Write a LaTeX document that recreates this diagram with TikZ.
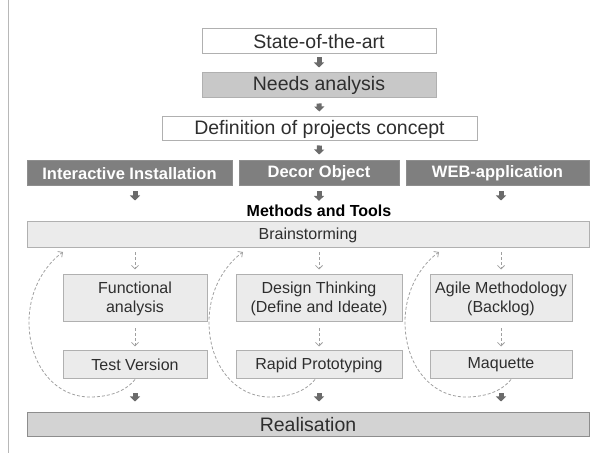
\documentclass[tikz,border=0pt]{standalone}
\usepackage{fontspec}
\setmainfont{Liberation Sans}
\usetikzlibrary{arrows.meta}
\definecolor{boxline}{HTML}{B0B0B0}
\definecolor{textgray}{HTML}{2E2E2E}
\definecolor{needsfill}{HTML}{C8C8C8}
\definecolor{darkfill}{HTML}{7F7F7F}
\definecolor{darkline}{HTML}{8E8E8E}
\definecolor{lightfill}{HTML}{EBEBEB}
\definecolor{realfill}{HTML}{D3D3D3}
\definecolor{arrowgray}{HTML}{6B6B6B}
\definecolor{dashgray}{HTML}{A0A0A0}
\definecolor{sidegray}{HTML}{B8B8B8}

\begin{document}
\begin{tikzpicture}[x = 1pt, y = -1pt]
\tikzstyle{BoxStyle}=[
shape = rectangle,
draw = boxline,
line width = 1pt,
inner sep = 0pt,
text = textgray,
align = center]
\tikzstyle{TopBox}=[BoxStyle, fill = white, minimum height = 25pt, font = \fontsize{19.5}{22}\selectfont]
\tikzstyle{GroupBox}=[BoxStyle, draw = darkline, fill = darkfill, text = white, minimum height = 25pt, font = \fontsize{16.5}{19}\selectfont\bfseries]
\tikzstyle{MethodBox}=[BoxStyle, fill = lightfill, font = \fontsize{16}{19}\selectfont]
\tikzstyle{bigarrow}=[draw = arrowgray, line width = 5pt, -{Triangle[width = 10pt, length = 5pt]}]
\tikzstyle{dasharrow}=[draw = dashgray, line width = 0.8pt, dash pattern = on 3pt off 2pt, -{Straight Barb[width = 7pt, length = 3.5pt]}]
\useasboundingbox (0,0) rectangle (603,454);
\draw[draw = sidegray, line width = 1pt] (8,0) -- (8,453);
\node[TopBox, minimum width = 234pt] (state) at (319,41.5) {State-of-the-art};
\node[TopBox, fill = needsfill, minimum width = 234pt] (needs) at (319,85.5) {Needs analysis};
\node[TopBox, minimum width = 315pt, minimum height = 24pt] (concept) at (319.5,129) {Definition of projects concept};
\node[GroupBox, minimum width = 205pt] (install) at (129.5,173.5) {Interactive Installation};
\node[GroupBox, minimum width = 160pt] (decor) at (319,173.5) {Decor Object};
\node[GroupBox, minimum width = 183pt] (webapp) at (497.5,173.5) {WEB-application};
\node[inner sep = 0pt, text = black, font = \fontsize{16}{19}\selectfont\bfseries] (methods) at (319,211) {Methods and Tools};
\node[MethodBox, minimum width = 562pt, minimum height = 26pt] (brain) at (308,235) {Brainstorming};
\node[MethodBox, minimum width = 144pt, minimum height = 47pt] (func) at (135,298.5) {Functional\\analysis};
\node[MethodBox, minimum width = 166pt, minimum height = 47pt] (design) at (319,298.5) {Design Thinking\\(Define and Ideate)};
\node[MethodBox, minimum width = 142pt, minimum height = 47pt] (agile) at (501,298.5) {Agile Methodology\\(Backlog)};
\node[MethodBox, minimum width = 144pt, minimum height = 28pt] (test) at (135,365) {Test Version};
\node[MethodBox, minimum width = 166pt, minimum height = 28pt] (rapid) at (319,365) {Rapid Prototyping};
\node[MethodBox, minimum width = 142pt, minimum height = 28pt] (maquette) at (501,365) {Maquette};
\node[TopBox, draw = boxline!80!black, fill = realfill, minimum width = 562pt, minimum height = 24pt] (real) at (308,425) {Realisation};
\coordinate (backA) at (63,252);
\coordinate (backB) at (243,252);
\coordinate (backC) at (439,252);
\draw[bigarrow, shorten <= 3pt, shorten >= 5pt] (state) -- (needs);
\draw[bigarrow, shorten <= 5pt, shorten >= 5pt] (needs) -- (concept);
\draw[bigarrow, shorten <= 4pt, shorten >= 6pt] (concept) -- (decor);
\draw[bigarrow, shorten <= 5pt, shorten >= 21pt] (install.south -| func) -- (func |- brain.north);
\draw[bigarrow, shorten <= 5pt, shorten >= 4pt] (decor) -- (methods);
\draw[bigarrow, shorten <= 5pt, shorten >= 21pt] (webapp.south -| agile) -- (agile |- brain.north);
\draw[dasharrow, shorten <= 4pt, shorten >= 5pt] (brain.south -| func) -- (func);
\draw[dasharrow, shorten <= 4pt, shorten >= 5pt] (brain.south -| design) -- (design);
\draw[dasharrow, shorten <= 4pt, shorten >= 5pt] (brain.south -| agile) -- (agile);
\draw[dasharrow, shorten <= 6pt, shorten >= 4pt] (func) -- (test);
\draw[dasharrow, shorten <= 6pt, shorten >= 4pt] (design) -- (rapid);
\draw[dasharrow, shorten <= 6pt, shorten >= 4pt] (agile) -- (maquette);
\draw[dasharrow] (test.south) .. controls (125,392) and (108,397) .. (90,397) .. controls (55,397) and (29,365) .. (29,322) .. controls (29,290) and (45,265) .. (backA);
\draw[dasharrow] ([xshift = -4pt]rapid.south) .. controls (305,392) and (288,397) .. (270,397) .. controls (235,397) and (209,365) .. (209,322) .. controls (209,290) and (225,265) .. (backB);
\draw[dasharrow] ([xshift = 10pt]maquette.south) .. controls (501,392) and (484,397) .. (466,397) .. controls (431,397) and (405,365) .. (405,322) .. controls (405,290) and (421,265) .. (backC);
\draw[bigarrow, shorten <= 14pt, shorten >= 11pt] (test.south) -- (test.south |- real.north);
\draw[bigarrow, shorten <= 14pt, shorten >= 11pt] (rapid.south) -- (rapid.south |- real.north);
\draw[bigarrow, shorten <= 14pt, shorten >= 11pt] (maquette.south) -- (maquette.south |- real.north);
\end{tikzpicture}
\end{document}
